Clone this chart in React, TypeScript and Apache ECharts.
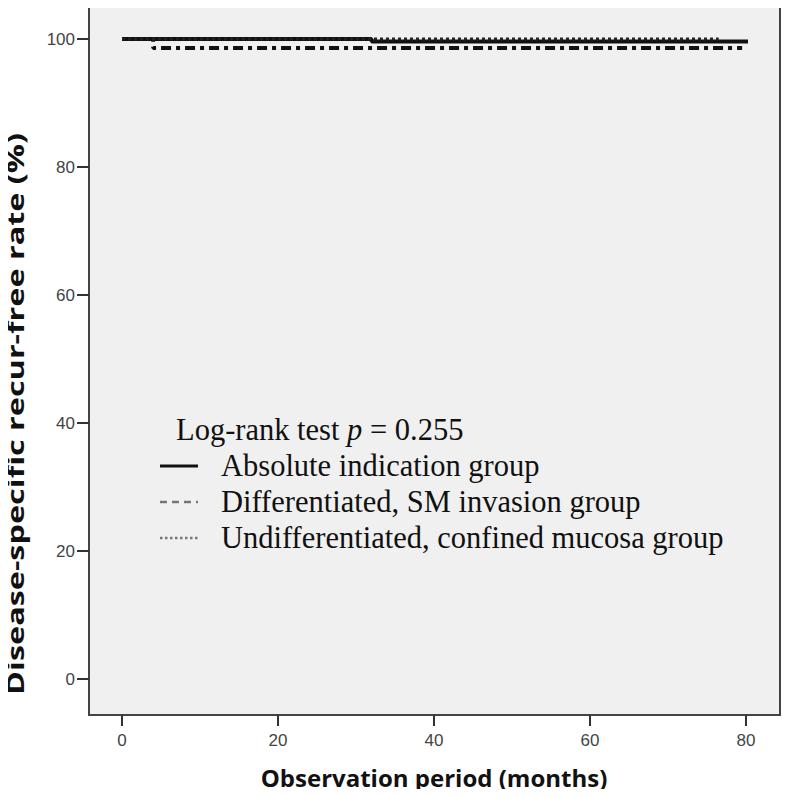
import React, { useEffect, useRef } from "react";
import * as echarts from "echarts";

// Kaplan-Meier step data (months, recurrence-free %)
const absoluteTimes = [0, 32, 81];
const absoluteRates = [100, 99.6, 99.6];
const differentiatedTimes = [0, 4, 79.5];
const differentiatedRates = [100, 98.6, 98.6];
const undifferentiatedTimes = [0, 76.5];
const undifferentiatedRates = [100, 100];

const seriesNames = [
  "Absolute indication group",
  "Differentiated, SM invasion group",
  "Undifferentiated, confined mucosa group",
];
const xTicks = [0, 20, 40, 60, 80];
const yTicks = [0, 20, 40, 60, 80, 100];
const pValueText = "0.255";

const zip = (t: number[], v: number[]) => t.map((x, i) => [x, v[i]]);

export default function App() {
  const ref = useRef<HTMLDivElement>(null);
  useEffect(() => {
    if (!ref.current) return;
    const chart = echarts.init(ref.current, null, { renderer: "svg" });
    const serif = "'Liberation Serif', 'Times New Roman', serif";
    const legendY = [466, 502, 538];
    chart.setOption({
      animation: false,
      backgroundColor: "#ffffff",
      grid: { left: 122, right: 54, top: 39, bottom: 118 },
      xAxis: {
        type: "value",
        min: xTicks[0],
        max: xTicks[xTicks.length - 1],
        interval: 20,
        offset: 36,
        axisLine: { show: true, onZero: false, lineStyle: { color: "#444", width: 2 } },
        axisTick: { show: true, length: 11, lineStyle: { color: "#333", width: 2 } },
        axisLabel: { fontSize: 17, color: "#444", fontFamily: "'Liberation Sans', Arial, sans-serif", margin: 17 },
        splitLine: { show: false },
        name: "Observation period (months)",
        nameLocation: "middle",
        nameGap: 50,
        nameTextStyle: { fontSize: 24, fontWeight: "bold", color: "#111", fontFamily: "'Open Sans', sans-serif" },
      },
      yAxis: {
        type: "value",
        min: yTicks[0],
        max: yTicks[yTicks.length - 1],
        interval: 20,
        offset: 33,
        axisLine: { show: true, onZero: false, lineStyle: { color: "#444", width: 2 } },
        axisTick: { show: true, length: 12, lineStyle: { color: "#333", width: 2 } },
        axisLabel: { fontSize: 17, color: "#444", fontFamily: "'Liberation Sans', Arial, sans-serif", margin: 14 },
        splitLine: { show: false },
      },
      graphic: {
        elements: [
          {
            type: "rect",
            z: -10,
            silent: true,
            shape: { x: 89, y: 3, width: 691, height: 712 },
            style: { fill: "#f0f0f0", stroke: "#444", lineWidth: 2 },
          },
          {
            type: "text",
            x: 15,
            y: 414,
            rotation: Math.PI / 2,
            scaleX: 1.35,
            style: {
              text: "Disease-specific recur-free rate (%)",
              font: "bold 24px 'Open Sans', sans-serif",
              fill: "#111",
              textAlign: "center",
              textVerticalAlign: "middle",
            },
          },
          {
            type: "text",
            x: 176,
            y: 430,
            z: 100,
            style: {
              text: "{a|Log-rank test }{i|p}{a| = " + pValueText + "}",
              textVerticalAlign: "middle",
              rich: {
                a: { fontSize: 30.5, fontFamily: serif, fill: "#111" },
                i: { fontSize: 30.5, fontFamily: serif, fontStyle: "italic", fill: "#111" },
              },
            },
          },
          ...seriesNames.flatMap((name, i) => [
            {
              type: "line",
              z: 100,
              shape: { x1: 160, y1: legendY[i], x2: 198, y2: legendY[i] },
              style: {
                stroke: i === 0 ? "#111" : "#777",
                lineWidth: i === 0 ? 3 : 2.5,
                lineDash: i === 0 ? null : i === 1 ? [7, 5] : [2.5, 2.5],
              },
            },
            {
              type: "text",
              x: 221,
              y: legendY[i],
              z: 100,
              style: {
                text: name,
                font: "30.5px " + serif,
                fill: "#111",
                textVerticalAlign: "middle",
              },
            },
          ]),
        ],
      },
      series: [
        {
          name: seriesNames[0],
          type: "line",
          step: "end",
          clip: false,
          showSymbol: false,
          symbol: "none",
          data: zip(absoluteTimes, absoluteRates),
          lineStyle: { color: "#111", width: 4, type: "solid" },
          z: 3,
        },
        {
          name: seriesNames[1],
          type: "line",
          step: "end",
          clip: false,
          showSymbol: false,
          symbol: "none",
          data: zip(differentiatedTimes, differentiatedRates),
          lineStyle: { color: "#111", width: 4, type: [10, 5, 4, 5] },
          z: 3,
        },
        {
          name: seriesNames[2],
          type: "line",
          step: "end",
          clip: false,
          showSymbol: false,
          symbol: "none",
          data: zip(undifferentiatedTimes, undifferentiatedRates),
          lineStyle: { color: "#222", width: 3, type: [3, 3] },
          z: 4,
        },
      ],
    });
    return () => chart.dispose();
  }, []);
  return <div ref={ref} style={{ width: 800, height: 797, margin: -8 }} />;
}
